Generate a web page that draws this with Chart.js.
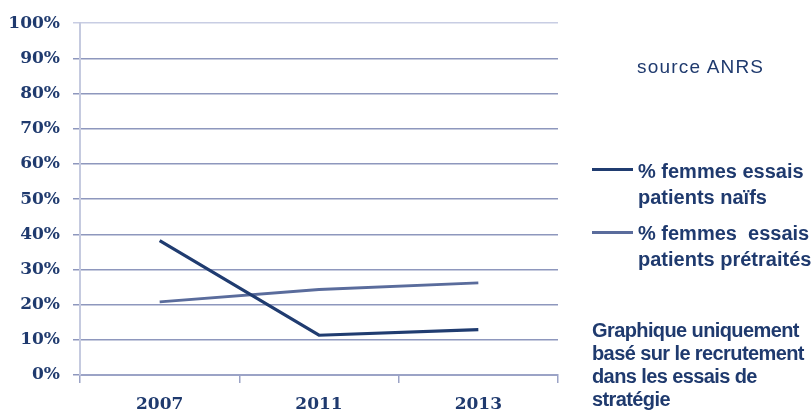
<!DOCTYPE html>
<html>
<head>
<meta charset="utf-8">
<script src="https://cdn.jsdelivr.net/npm/chart.js@4"></script>
<style>
  html, body { margin: 0; padding: 0; background: #fff; overflow: hidden; }
  #wrap { position: relative; width: 812px; height: 410px; overflow: hidden; }
  canvas { position: absolute; left: 0; top: 0; }
  .t { position: absolute; color: #1f3a6e; font-family: "Liberation Sans", Arial, sans-serif; white-space: pre; }
  .src { left: 637px; top: 56px; font-size: 19px; letter-spacing: 1.2px; }
  .leg { left: 638px; font-size: 20px; font-weight: bold; line-height: 26px; letter-spacing: 0px; }
  .sw { position: absolute; left: 592px; width: 41px; height: 3px; }
  .note { left: 592px; top: 319px; font-size: 20px; font-weight: bold; line-height: 23px; letter-spacing: -0.6px; }
</style>
</head>
<body>
<div id="wrap">
  <canvas id="c" width="812" height="410"></canvas>
  <div class="t src">source ANRS</div>
  <div class="sw" style="top:168px;background:#203c70;"></div>
  <div class="t leg" style="top:158px;">% femmes essais
patients naïfs</div>
  <div class="sw" style="top:231px;height:3px;background:#5a6c9c;"></div>
  <div class="t leg" style="top:220px;">% femmes  essais
patients prétraités</div>
  <div class="t note">Graphique uniquement
basé sur le recrutement
dans les essais de
stratégie</div>
</div>
<script>
const categories = ["2007", "2011", "2013"];
const naifs = [38.2, 11.3, 12.9];
const pretraites = [20.8, 24.3, 26.2];
const yTicks = [0, 10, 20, 30, 40, 50, 60, 70, 80, 90, 100];

new Chart(document.getElementById("c"), {
  type: "line",
  data: {
    labels: categories,
    datasets: [
      { label: "% femmes essais patients naïfs", data: naifs, borderColor: "#203c70", borderWidth: 3.2, pointRadius: 0, tension: 0 },
      { label: "% femmes  essais patients prétraités", data: pretraites, borderColor: "#5a6c9c", borderWidth: 2.8, pointRadius: 0, tension: 0 }
    ]
  },
  options: {
    responsive: false,
    animation: false,
    layout: { padding: { left: 0, top: 22, right: 254, bottom: 0 } },
    plugins: { legend: { display: false }, tooltip: { enabled: false } },
    scales: {
      x: {
        offset: true,
        afterFit: s => { s.height = 35; },
        grid: { offset: true, drawOnChartArea: false, drawTicks: true, tickLength: 8, color: "#9ba3c6", lineWidth: 1.5 },
        border: { color: "#9ba3c6", width: 2 },
        ticks: { padding: 11, color: "#1f3a6e", font: { family: "'DejaVu Serif', serif", weight: "bold", size: 17 } }
      },
      y: {
        min: 0, max: 100,
        afterFit: s => { s.width = 80; },
        afterBuildTicks: s => { s.ticks = yTicks.map(v => ({ value: v })); },
        grid: {
          tickLength: 7, lineWidth: 1.5,
          color: ctx => (ctx.tick && ctx.tick.value === 100) ? "#c8cde3" : "#8e97bd"
        },
        border: { color: "#c5cadf", width: 2 },
        ticks: { padding: 13, color: "#1f3a6e", font: { family: "'DejaVu Serif', serif", weight: "bold", size: 17 }, callback: v => v + "%" }
      }
    }
  }
});
</script>
</body>
</html>
